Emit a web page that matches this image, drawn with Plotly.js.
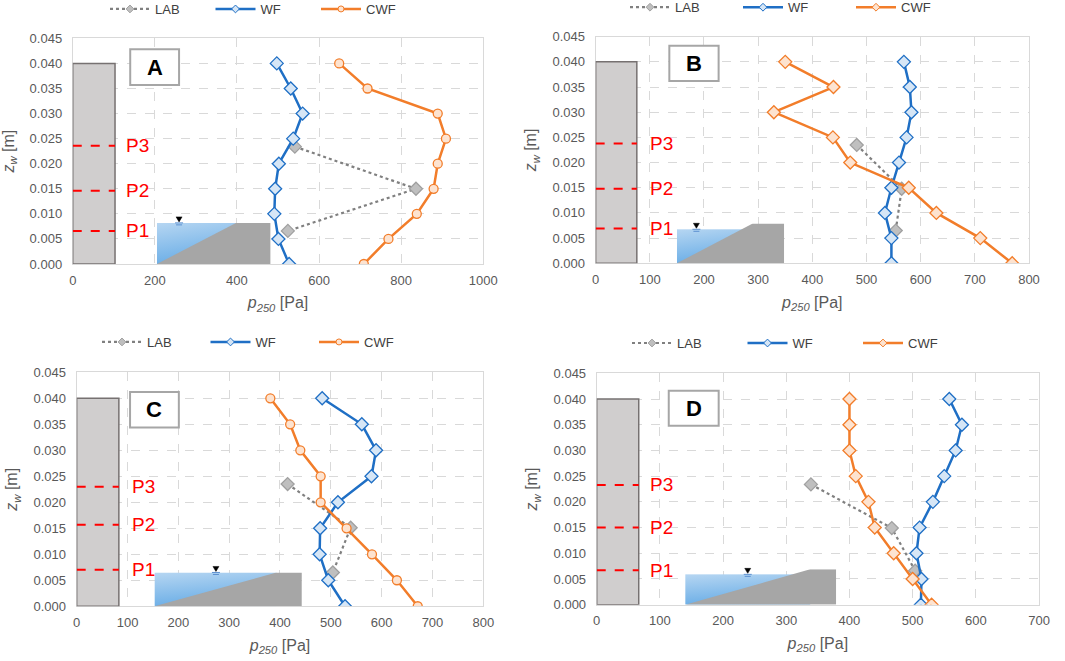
<!DOCTYPE html>
<html>
<head>
<meta charset="utf-8">
<script src="https://cdn.plot.ly/plotly-3.0.1.min.js"></script>
<style>html,body{margin:0;padding:0;background:#fff;}#chart{width:1065px;height:661px;}</style>
</head>
<body>
<div id="chart"></div>
<script>
// ---------- data ----------
const Z = [0.040, 0.035, 0.030, 0.025, 0.020, 0.015, 0.010, 0.005, 0.000];

const A_WF  = [497, 531, 560, 537, 502, 493, 491, 501, 527];
const A_CWF = [649, 718, 889, 909, 889, 879, 838, 769, 709];
const A_LAB_P = [541, 836, 524];
const A_LAB_Z = [0.0234, 0.0150, 0.0066];

const B_WF  = [569, 580, 583, 574, 560, 546, 534, 546, 546];
const B_CWF = [350, 439, 329, 438, 470, 578, 629, 710, 769];
const B_LAB_P = [482, 565, 554];
const B_LAB_Z = [0.0235, 0.0148, 0.0065];

const C_WF  = [483, 561, 589, 580, 514, 479, 478, 495, 528];
const C_CWF = [381, 420, 440, 480, 480, 531, 581, 630, 671];
const C_LAB_P = [415, 539, 504];
const C_LAB_Z = [0.0235, 0.0151, 0.0065];

const D_WF  = [558, 578, 568, 550, 532, 511, 506, 514, 513];
const D_CWF = [400, 400, 400, 410, 430, 440, 470, 500, 530];
const D_LAB_P = [339, 467, 504];
const D_LAB_Z = [0.0234, 0.0149, 0.0066];

const SERIES_NAMES = ['LAB', 'WF', 'CWF'];
const PANEL_LETTERS = ['A', 'B', 'C', 'D'];
const PROBE_LABELS = ['P3', 'P2', 'P1'];
const X_MAX = [1000, 800, 800, 700];
const X_DTICK = [200, 100, 100, 100];

// ---------- styling / decoration (not data) ----------
const FONT = 'Liberation Sans, Arial, sans-serif';
const BLUE = '#1f6fc5', BLUE_FILL = '#d6e6f6';
const ORANGE = '#f27d2a', ORANGE_FILL = '#fde3d0';
const GRAYL = '#808080';

const panels = [
  {wf: A_WF, cwf: A_CWF, lp: A_LAB_P, lz: A_LAB_Z, cwfSym: 'circle',
   xd: [0.0683, 0.4538], yd: [0.6006, 0.942], leg: [105, 0.9864], ew: 50.5,
   colW: 103, probes: [0.0236, 0.0146, 0.0066], plx: 158,
   box: [140, 259, 0.0357, 0.0428],
   inset: {x0: 205, x1: 482, top: 0.0082, sf: 0.697, bt: 1.0}, water: [259, 0.0082]},
  {wf: B_WF, cwf: B_CWF, lp: B_LAB_P, lz: B_LAB_Z, cwfSym: 'diamond',
   xd: [0.5593, 0.9662], yd: [0.6017, 0.9445], leg: [625, 0.989], ew: 58,
   colW: 76, probes: [0.0238, 0.0148, 0.0069], plx: 121,
   box: [136, 227, 0.0362, 0.0432],
   inset: {x0: 150, x1: 348, top: 0.0079, sf: 0.707, bt: 0.854}, water: [186, 0.00675]},
  {wf: C_WF, cwf: C_CWF, lp: C_LAB_P, lz: C_LAB_Z, cwfSym: 'circle',
   xd: [0.0720, 0.4538], yd: [0.0828, 0.4368], leg: [97, 0.4826], ew: 53.5,
   colW: 83, probes: [0.0230, 0.0157, 0.0070], plx: 131,
   box: [105, 201, 0.0344, 0.0412],
   inset: {x0: 153, x1: 443, top: 0.0065, sf: 0.828, bt: 1.0}, water: [274, 0.0065]},
  {wf: D_WF, cwf: D_CWF, lp: D_LAB_P, lz: D_LAB_Z, cwfSym: 'diamond',
   xd: [0.5603, 0.9756], yd: [0.0852, 0.4352], leg: [627, 0.481], ew: 60.5,
   colW: 66.5, probes: [0.0233, 0.0150, 0.0067], plx: 103,
   box: [114, 193, 0.0348, 0.0416],
   inset: {x0: 140, x1: 379, top: 0.00687, sf: 0.828, bt: 0.859}, water: [239, 0.0059]}
];

function insetSvg(sf, bt) {
  const s = '<svg xmlns="http://www.w3.org/2000/svg" width="100" height="100" viewBox="0 0 100 100" preserveAspectRatio="none">' +
    '<defs><linearGradient id="g" x1="0" y1="0" x2="0.3" y2="1">' +
    '<stop offset="0" stop-color="#b6d6f2"/><stop offset="1" stop-color="#69ade6"/></linearGradient></defs>' +
    '<rect x="0" y="' + (100 - bt * 100) + '" width="' + (sf * 100) + '" height="' + (bt * 100) + '" fill="url(#g)"/>' +
    '<polygon points="0,100 ' + (sf * 100) + ',0 100,0 100,100" fill="#a6a6a6"/></svg>';
  return 'data:image/svg+xml;utf8,' + encodeURIComponent(s);
}

const traces = [];
const layout = {
  width: 1065, height: 661,
  margin: {l: 0, r: 0, t: 0, b: 0, autoexpand: false},
  paper_bgcolor: '#ffffff', plot_bgcolor: '#ffffff',
  font: {family: FONT, color: '#595959'},
  showlegend: true,
  shapes: [], annotations: [], images: []
};

panels.forEach((p, i) => {
  const n = i === 0 ? '' : String(i + 1);
  const xa = 'x' + n, ya = 'y' + n;
  const legName = 'legend' + n;

  const styles = [
    {line: {color: GRAYL, width: 2.2, dash: 'dot'}, sym: 'diamond', fill: '#bfbfbf', edge: '#a0a0a0', size: 10},
    {line: {color: BLUE, width: 2.5}, sym: 'diamond', fill: BLUE_FILL, edge: BLUE, size: 10},
    {line: {color: ORANGE, width: 2.5}, sym: p.cwfSym, fill: ORANGE_FILL, edge: ORANGE, size: p.cwfSym === 'circle' ? 9 : 10}
  ];
  const xs = [p.lp, p.wf, p.cwf];
  const ys = [p.lz, Z, Z];

  styles.forEach((st, k) => {
    traces.push({
      type: 'scatter', mode: 'lines+markers', name: SERIES_NAMES[k],
      x: xs[k], y: ys[k], xaxis: xa, yaxis: ya, showlegend: false,
      line: st.line,
      marker: {symbol: st.sym, size: st.size, color: st.fill, line: {color: st.edge, width: 1.3}}
    });
  });
  // legend entries (small markers as in the reference key)
  styles.forEach((st, k) => {
    traces.push({
      type: 'scatter', mode: 'lines+markers', name: SERIES_NAMES[k],
      x: [null], y: [null], xaxis: xa, yaxis: ya, legend: legName, showlegend: true,
      line: st.line,
      marker: {symbol: st.sym, size: 6, color: st.fill, line: {color: st.edge, width: 1}}
    });
  });

  layout['xaxis' + n] = {
    domain: p.xd, anchor: ya, range: [0, X_MAX[i]], dtick: X_DTICK[i], tick0: 0,
    showgrid: true, gridcolor: '#d9d9d9', griddash: 'dash', gridwidth: 1,
    showline: true, mirror: true, linecolor: '#d9d9d9', linewidth: 1,
    zeroline: false, ticks: '', fixedrange: true, ticklabelstandoff: 4,
    tickfont: {family: FONT, size: 13, color: '#595959'},
    title: {text: '<i>p</i><sub><i>250</i></sub> [Pa]', font: {family: FONT, size: 16, color: '#595959'}, standoff: 10}
  };
  layout['yaxis' + n] = {
    domain: p.yd, anchor: xa, range: [0, 0.045], dtick: 0.005, tick0: 0, tickformat: '.3f',
    showgrid: true, gridcolor: '#d9d9d9', griddash: 'dash', gridwidth: 1,
    showline: true, mirror: true, linecolor: '#d9d9d9', linewidth: 1,
    zeroline: false, ticks: '', fixedrange: true, ticklabelstandoff: 7,
    tickfont: {family: FONT, size: 13, color: '#595959'},
    title: {text: '<i>z</i><sub><i>w</i></sub> [m]', font: {family: FONT, size: 16, color: '#595959'}, standoff: 11}
  };
  layout[legName] = {
    x: p.leg[0] / 1065, y: p.leg[1], xref: 'paper', yref: 'paper', xanchor: 'left', yanchor: 'middle',
    orientation: 'h', font: {family: FONT, size: 13, color: '#404040'},
    bgcolor: 'rgba(0,0,0,0)', entrywidth: p.ew, entrywidthmode: 'pixels', itemsizing: 'trace',
    itemwidth: 40, tracegroupgap: 0
  };

  // sluice gate column
  layout.shapes.push({type: 'rect', xref: xa, yref: ya, x0: 0, x1: p.colW, y0: 0, y1: 0.040,
    fillcolor: '#d0cece', line: {color: '#767171', width: 1.5}, layer: 'above'});
  // probe markers
  p.probes.forEach((pz, k) => {
    layout.shapes.push({type: 'line', xref: xa, yref: ya, x0: 0, x1: p.colW, y0: pz, y1: pz,
      line: {color: '#ff0000', width: 2, dash: 'dash'}, layer: 'above'});
    layout.annotations.push({xref: xa, yref: ya, x: p.plx, y: pz, text: PROBE_LABELS[k], showarrow: false,
      font: {family: FONT, size: 19, color: '#ff0000'}, xanchor: 'center', yanchor: 'middle'});
  });
  // panel letter box
  layout.shapes.push({type: 'rect', xref: xa, yref: ya, x0: p.box[0], x1: p.box[1], y0: p.box[2], y1: p.box[3],
    fillcolor: '#ffffff', line: {color: '#a6a6a6', width: 2}, layer: 'above'});
  layout.annotations.push({xref: xa, yref: ya, x: (p.box[0] + p.box[1]) / 2, y: (p.box[2] + p.box[3]) / 2,
    text: '<b>' + PANEL_LETTERS[i] + '</b>', showarrow: false,
    font: {family: FONT, size: 22, color: '#000000'}, xanchor: 'center', yanchor: 'middle'});
  // channel inset picture
  const ins = p.inset;
  layout.images.push({source: insetSvg(ins.sf, ins.bt), xref: xa, yref: ya,
    x: ins.x0, y: ins.top, sizex: ins.x1 - ins.x0, sizey: ins.top, xanchor: 'left', yanchor: 'top',
    sizing: 'stretch', layer: 'above'});
  // water surface symbol
  layout.shapes.push({type: 'path', xref: xa, yref: ya, xsizemode: 'pixel', ysizemode: 'pixel',
    xanchor: p.water[0], yanchor: p.water[1], path: 'M-3,6 L3,6 L0,1 Z',
    fillcolor: '#000000', line: {color: '#000000', width: 0.5}, layer: 'above'});
  layout.shapes.push({type: 'path', xref: xa, yref: ya, xsizemode: 'pixel', ysizemode: 'pixel',
    xanchor: p.water[0], yanchor: p.water[1], path: 'M-4,0 L4,0 M-3,-2 L3,-2',
    line: {color: '#5b8fd0', width: 1}, layer: 'above'});
});

Plotly.newPlot('chart', traces, layout, {displayModeBar: false, staticPlot: true});
</script>
</body>
</html>
